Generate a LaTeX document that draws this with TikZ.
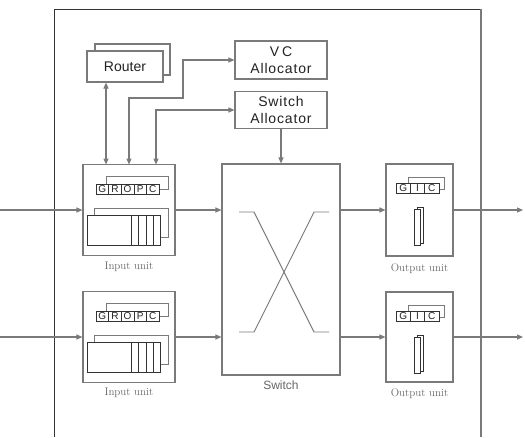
\documentclass[tikz,border=0pt]{standalone}
\usepackage{fontspec}
\newfontfamily\boxfont[LetterSpace=6]{Liberation Sans}
\newfontfamily\plainsans{Liberation Sans}
\usetikzlibrary{arrows.meta}
\definecolor{lg}{HTML}{7A7A7A}
\definecolor{dk}{HTML}{333333}
\definecolor{tx}{HTML}{222222}
\definecolor{lab}{HTML}{666666}
\tikzset{
  ln/.style={draw=lg, line width=1.1pt},
  arr/.style={ln, -{Triangle[length=6pt,width=5pt]}},
  dbl/.style={ln, {Triangle[length=6pt,width=5pt]}-{Triangle[length=6pt,width=5pt]}},
  blk/.style={draw=lg, line width=1.1pt, fill=white, inner sep=0pt, text=tx},
  cell/.style={draw=dk, line width=0.6pt, fill=white, inner sep=0pt, minimum height=10pt, text=tx, font=\plainsans\fontsize{10}{10}\selectfont},
  unitlab/.style={font=\fontsize{11}{12}\selectfont, text=lab},
  inunit/.pic={
    \draw[draw=lg, line width=0.8pt] (23,20) -- (23,12) -- (85,12) -- (85,25) -- (76,25);
    \node[cell, minimum width=12.6pt] (-G) at (19.3,25) {G};
    \node[cell, minimum width=12.6pt] (-R) at (31.9,25) {R};
    \node[cell, minimum width=12.6pt] (-O) at (44.5,25) {O};
    \node[cell, minimum width=12.6pt] (-P) at (57.1,25) {P};
    \node[cell, minimum width=12.6pt] (-C) at (69.7,25) {C};
    \draw[draw=lg, line width=0.8pt] (11,51) -- (11,44) -- (85,44) -- (85,73) -- (77,73);
    \draw[draw=dk, line width=0.7pt, fill=white] (4,51) rectangle (77,81);
    \foreach \xx in {48,55,63,70} \draw[draw=dk, line width=0.6pt] (\xx,51) -- (\xx,81);
  },
  outunit/.pic={
    \draw[draw=lg, line width=0.8pt] (22,20) -- (22,13) -- (58,13) -- (58,25) -- (53,25);
    \node[cell, minimum width=14.3pt] (-G) at (17.2,24.5) {G};
    \node[cell, minimum width=14.3pt] (-I) at (31.5,24.5) {I};
    \node[cell, minimum width=14.3pt] (-C) at (45.8,24.5) {C};
    \draw[draw=dk, line width=0.6pt] (31,43) rectangle (37,79);
    \draw[draw=dk, line width=0.6pt, fill=white] (28,45) rectangle (34,81);
  }
}
\begin{document}
\begin{tikzpicture}[x=1pt,y=-1pt]
\useasboundingbox (0,0) rectangle (525,437);
% frame
\draw[draw=dk, line width=0.9pt] (54,437) -- (54,9) -- (481,9);
\draw[draw=lg, line width=1.8pt] (481,8.6) -- (481,437);

% router
\node[blk, minimum width=75pt, minimum height=31pt] (routerB) at (132.5,59.5) {};
\node[blk, minimum width=76pt, minimum height=31pt, font=\plainsans\fontsize{14}{14}\selectfont] (routerF) at (125,66.5) {Router};

% allocators
\node[blk, minimum width=92pt, minimum height=38pt, align=center, font=\boxfont\fontsize{14}{16.5}\selectfont] (vc) at (281,60) {V\hspace{3pt}C\\Allocator};
\node[blk, minimum width=92pt, minimum height=37pt, align=center, font=\boxfont\fontsize{14}{16.5}\selectfont] (sa) at (281,110) {Switch\\Allocator};

% input units
\node[blk, minimum width=92pt, minimum height=91pt] (iu1) at (129,210) {};
\pic (iuA) at (83,164.5) {inunit};
\node[blk, minimum width=92pt, minimum height=91pt] (iu2) at (129,337) {};
\pic (iuB) at (83,291.5) {inunit};
\node[unitlab] (iu1lab) at (129,267) {Input unit};
\node[unitlab] (iu2lab) at (129,393) {Input unit};

% switch
\node[blk, minimum width=118pt, minimum height=211pt] (sw) at (281,269.5) {};
\draw[draw=lg, line width=0.9pt] (239,212) -- (254,212) -- (314,332) -- (329,332);
\draw[draw=lg, line width=0.9pt] (329,212) -- (314,212) -- (254,332) -- (239,332);
\node[font=\plainsans\fontsize{12}{12}\selectfont, text=lab] (swlab) at (281,385) {Switch};

% output units
\node[blk, minimum width=67pt, minimum height=92pt] (ou1) at (419.5,210) {};
\pic (ouA) at (386,164) {outunit};
\node[blk, minimum width=67pt, minimum height=90pt] (ou2) at (419.5,337) {};
\pic (ouB) at (386,292) {outunit};
\node[unitlab] (ou1lab) at (419.5,269) {Output unit};
\node[unitlab] (ou2lab) at (419.5,394) {Output unit};

% control connectors
\coordinate (p1) at (106,164.5);
\coordinate (p2) at (129,164.5);
\coordinate (p3) at (156,164.5);
\coordinate (b1) at (183,98);
\draw[dbl] (routerF.south -| p1) -- (p1);
\draw[dbl] (p2) |- (b1) |- (vc.west);
\draw[dbl] (p3) |- (sa.west);
\draw[arr] (sa.south) -- (sa.south |- sw.north);

% data connectors
\coordinate (in1) at (0,210);
\coordinate (in2) at (0,337);
\coordinate (out1) at (523,210);
\coordinate (out2) at (523,337);
\draw[arr] (in1) -- (iu1.west);
\draw[arr] (in2) -- (iu2.west);
\draw[arr] (iu1.east) -- (iu1.east -| sw.west);
\draw[arr] (iu2.east) -- (iu2.east -| sw.west);
\draw[arr] (ou1.west -| sw.east) -- (ou1.west);
\draw[arr] (ou2.west -| sw.east) -- (ou2.west);
\draw[arr] (ou1.east) -- (out1);
\draw[arr] (ou2.east) -- (out2);
\end{tikzpicture}
\end{document}
